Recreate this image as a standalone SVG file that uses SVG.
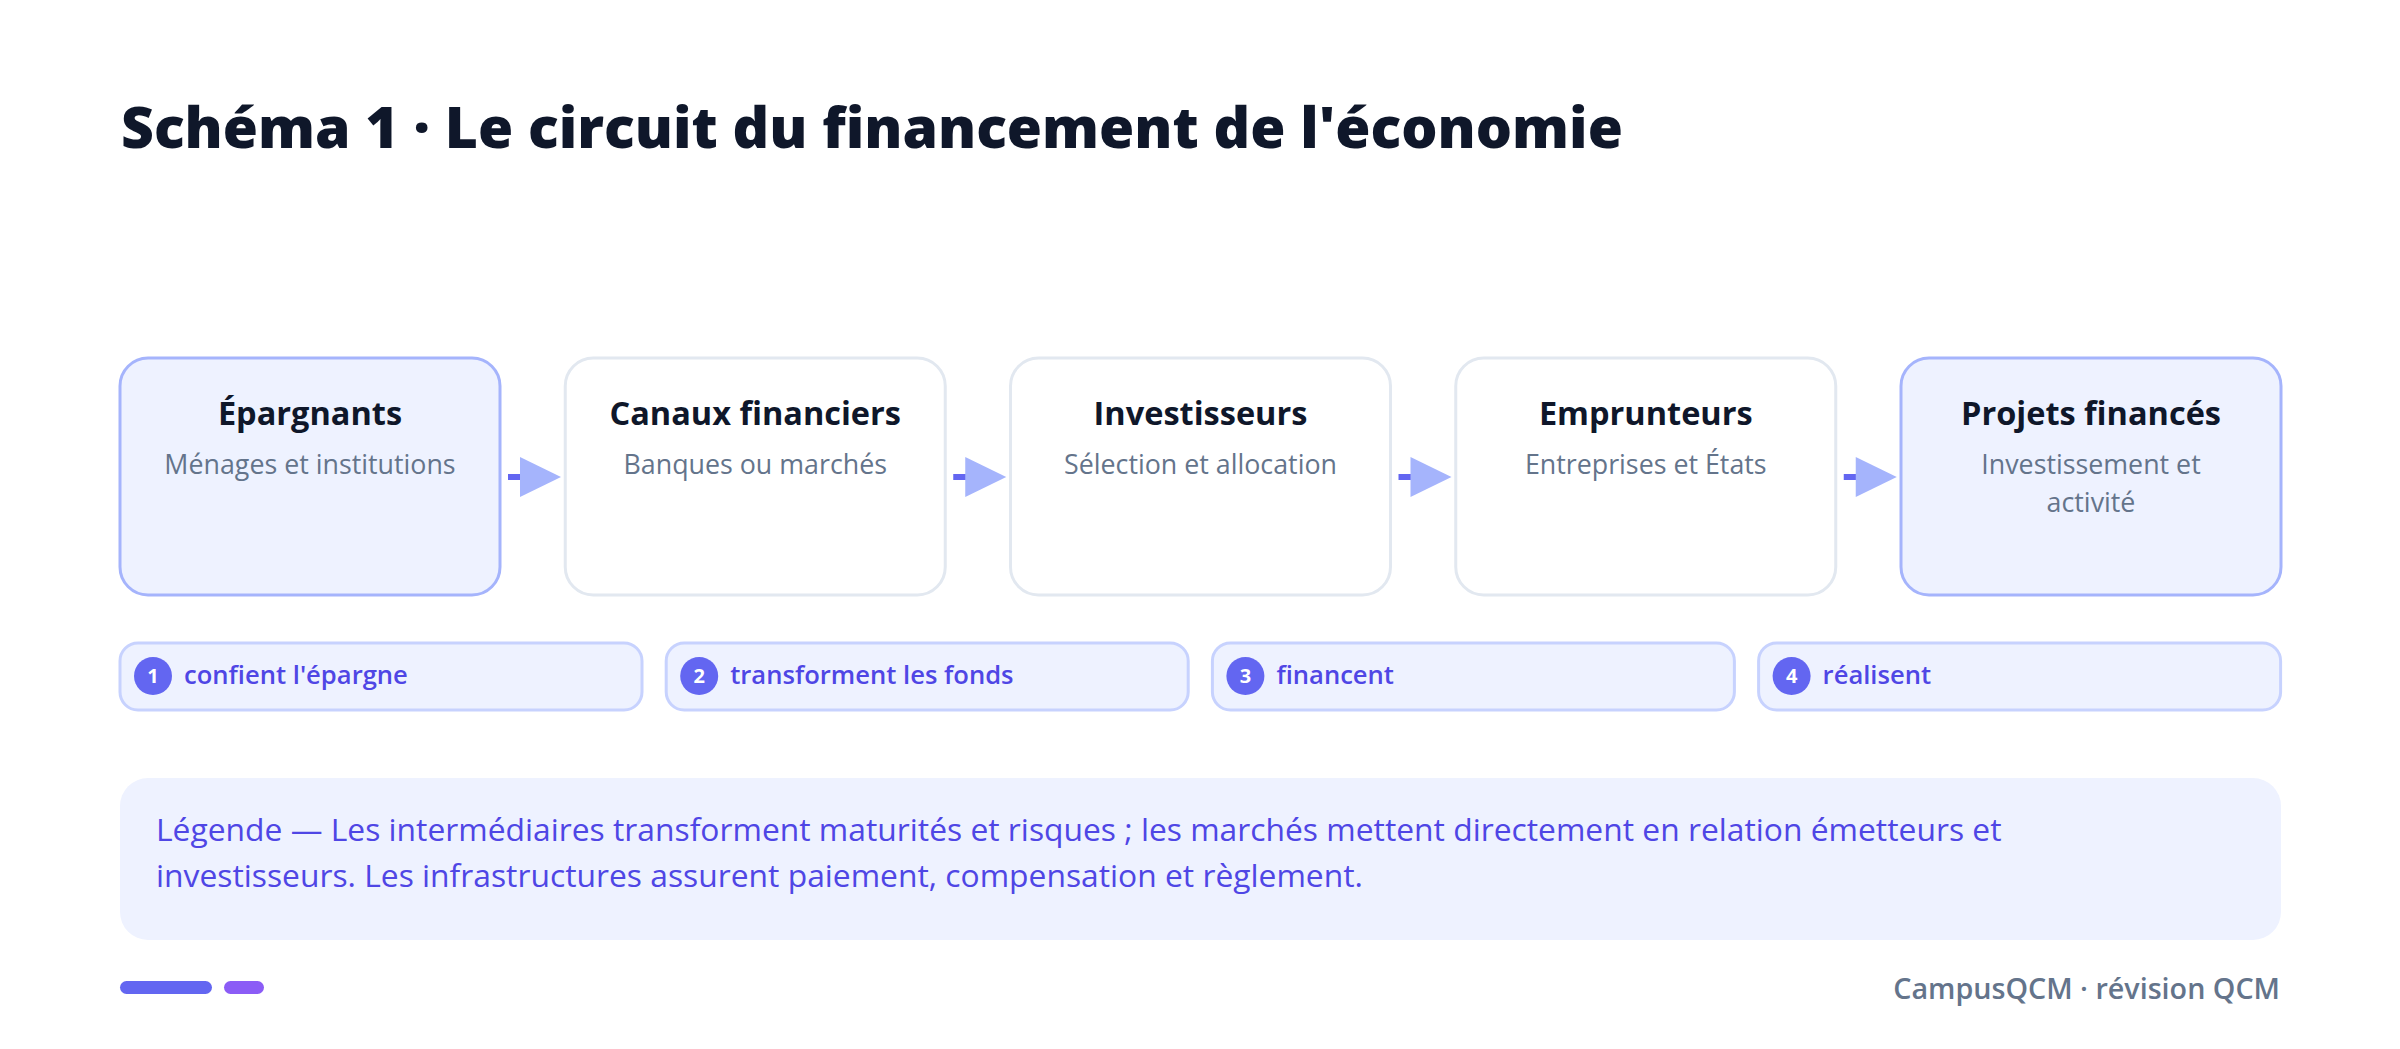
<svg xmlns="http://www.w3.org/2000/svg" width="2400" height="1049" viewBox="0 0 2400 1049">
<defs>
<style>
.title{font-family:"Open Sans","Noto Sans","Liberation Sans",sans-serif;font-weight:800;font-size:57px;fill:#0F172A}
.nt{font-family:"Open Sans","Noto Sans","Liberation Sans",sans-serif;font-weight:700;font-size:32.5px;fill:#0F172A;text-anchor:middle}
.ns{font-family:"Open Sans","Noto Sans","Liberation Sans",sans-serif;font-weight:400;font-size:26.8px;fill:#64748B;text-anchor:middle}
.hl{fill:#EEF2FF;stroke:#A5B4FC;stroke-width:3}
.pl{fill:#FFFFFF;stroke:#E2E8F0;stroke-width:3}
.pill{fill:#EEF2FF;stroke:#C7D2FE;stroke-width:3}
.num{fill:#6366F1}
.numt{font-family:"Open Sans","Noto Sans","Liberation Sans",sans-serif;font-weight:700;font-size:20px;fill:#FFFFFF;text-anchor:middle}
.st{font-family:"Open Sans","Noto Sans","Liberation Sans",sans-serif;font-weight:600;font-size:25.6px;fill:#4F46E5}
.lg{font-family:"Open Sans","Noto Sans","Liberation Sans",sans-serif;font-weight:400;font-size:31.8px;fill:#4F46E5}
.ft{font-family:"Open Sans","Noto Sans","Liberation Sans",sans-serif;font-weight:600;font-size:28.7px;fill:#64748B;text-anchor:end}
.dash{stroke:#6366F1;stroke-width:6}
.head{fill:#A5B4FC}
</style>
</defs>
<rect width="2400" height="1049" fill="#FFFFFF"/>
<text class="title" x="121" y="148">Schéma 1 · Le circuit du financement de l'économie</text>

<g id="connectors">
<line class="dash" x1="508" y1="477" x2="522" y2="477"/><polygon class="head" points="520,457 561,477 520,497"/>
<line class="dash" x1="953.25" y1="477" x2="967.25" y2="477"/><polygon class="head" points="965.25,457 1006.25,477 965.25,497"/>
<line class="dash" x1="1398.5" y1="477" x2="1412.5" y2="477"/><polygon class="head" points="1410.5,457 1451.5,477 1410.5,497"/>
<line class="dash" x1="1843.75" y1="477" x2="1857.75" y2="477"/><polygon class="head" points="1855.75,457 1896.75,477 1855.75,497"/>
</g>

<g id="node-epargnants">
<rect class="hl" x="120" y="358" width="380" height="237" rx="28"/>
<text class="nt" x="310" y="425">Épargnants</text>
<text class="ns" x="310" y="474">Ménages et institutions</text>
</g>
<g id="node-canaux">
<rect class="pl" x="565.25" y="358" width="380" height="237" rx="28"/>
<text class="nt" x="755.25" y="425">Canaux financiers</text>
<text class="ns" x="755.25" y="474">Banques ou marchés</text>
</g>
<g id="node-investisseurs">
<rect class="pl" x="1010.5" y="358" width="380" height="237" rx="28"/>
<text class="nt" x="1200.5" y="425">Investisseurs</text>
<text class="ns" x="1200.5" y="474">Sélection et allocation</text>
</g>
<g id="node-emprunteurs">
<rect class="pl" x="1455.75" y="358" width="380" height="237" rx="28"/>
<text class="nt" x="1645.75" y="425">Emprunteurs</text>
<text class="ns" x="1645.75" y="474">Entreprises et États</text>
</g>
<g id="node-projets">
<rect class="hl" x="1901" y="358" width="380" height="237" rx="28"/>
<text class="nt" x="2091" y="425">Projets financés</text>
<text class="ns" x="2091" y="474">Investissement et</text>
<text class="ns" x="2091" y="512">activité</text>
</g>

<g id="step-1">
<rect class="pill" x="120" y="643" width="522" height="67" rx="18"/>
<circle class="num" cx="153" cy="676" r="19"/>
<text class="numt" x="153" y="683">1</text>
<text class="st" x="184" y="684">confient l'épargne</text>
</g>
<g id="step-2">
<rect class="pill" x="666.2" y="643" width="522" height="67" rx="18"/>
<circle class="num" cx="699.2" cy="676" r="19"/>
<text class="numt" x="699.2" y="683">2</text>
<text class="st" x="730.2" y="684">transforment les fonds</text>
</g>
<g id="step-3">
<rect class="pill" x="1212.4" y="643" width="522" height="67" rx="18"/>
<circle class="num" cx="1245.4" cy="676" r="19"/>
<text class="numt" x="1245.4" y="683">3</text>
<text class="st" x="1276.4" y="684">financent</text>
</g>
<g id="step-4">
<rect class="pill" x="1758.6" y="643" width="522" height="67" rx="18"/>
<circle class="num" cx="1791.6" cy="676" r="19"/>
<text class="numt" x="1791.6" y="683">4</text>
<text class="st" x="1822.6" y="684">réalisent</text>
</g>

<g id="legend">
<rect x="120" y="778" width="2161" height="162" rx="28" fill="#EEF2FF"/>
<text class="lg" x="156" y="841">Légende — Les intermédiaires transforment maturités et risques ; les marchés mettent directement en relation émetteurs et</text>
<text class="lg" x="156" y="887">investisseurs. Les infrastructures assurent paiement, compensation et règlement.</text>
</g>

<g id="footer">
<rect x="120" y="981" width="92" height="13" rx="6.5" fill="#6366F1"/>
<rect x="224" y="981" width="40" height="13" rx="6.5" fill="#8B5CF6"/>
<text class="ft" x="2280" y="999">CampusQCM · révision QCM</text>
</g>
</svg>
